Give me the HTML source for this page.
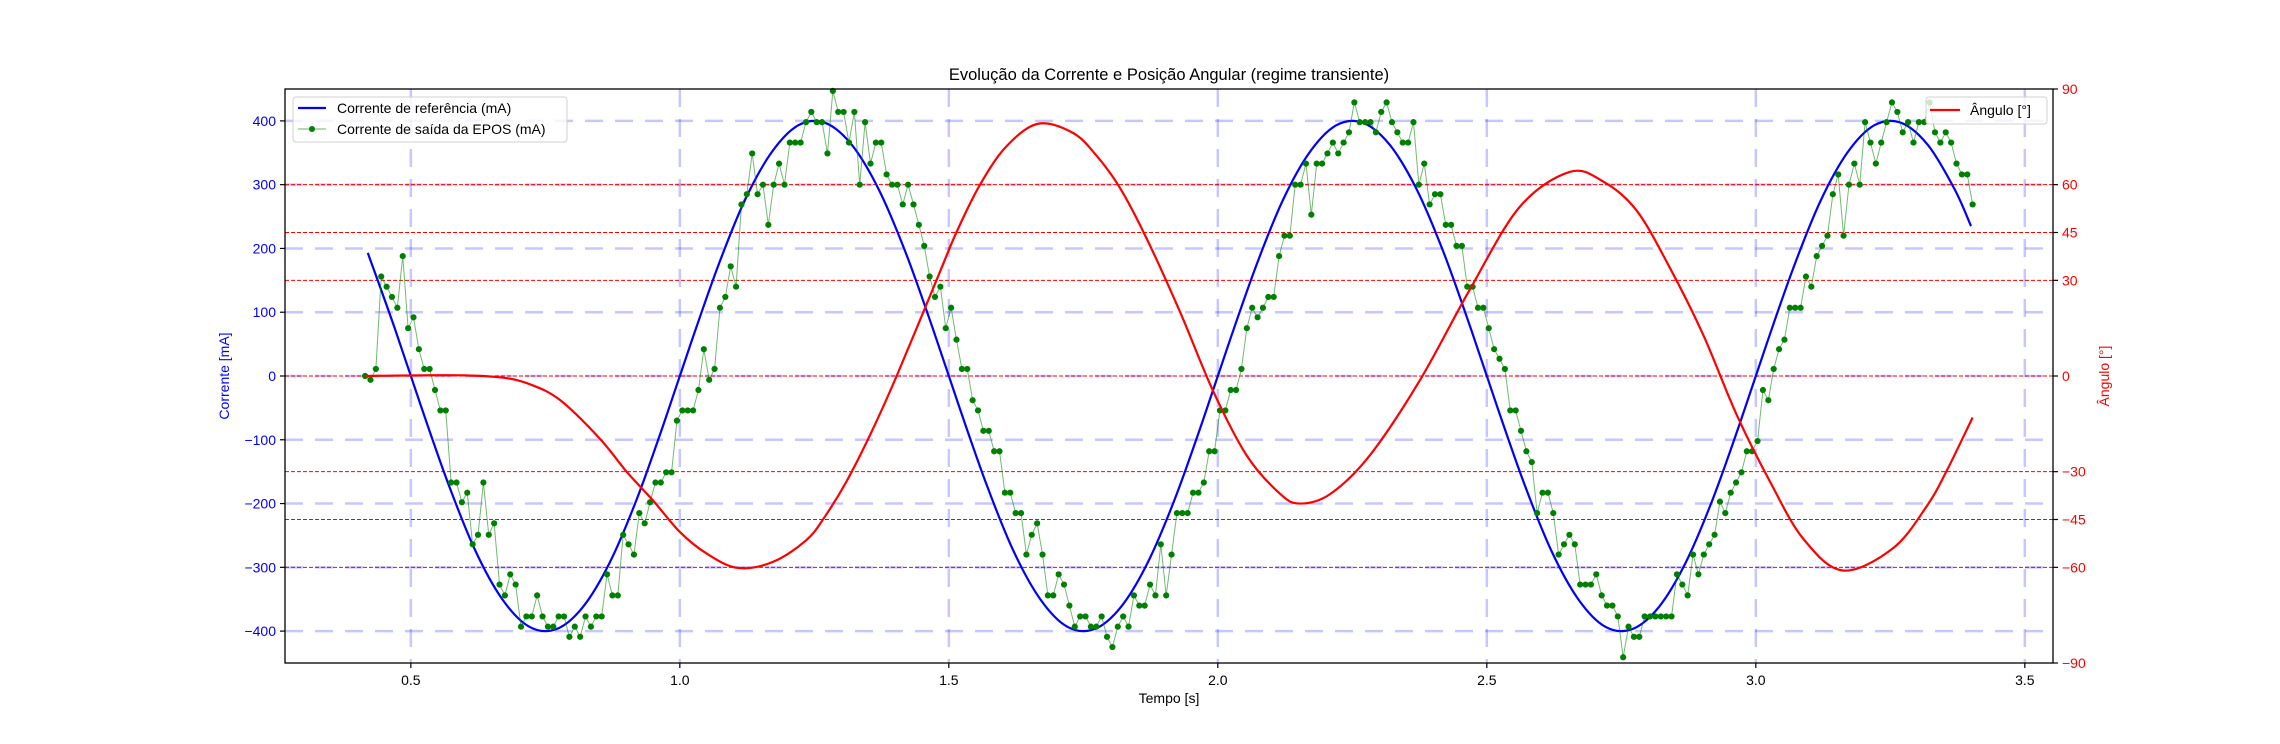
<!DOCTYPE html>
<html><head><meta charset="utf-8">
<style>
html,body{margin:0;padding:0;background:#fff;}
svg{display:block;font-family:"Liberation Sans","DejaVu Sans",sans-serif;}
</style></head>
<body>
<svg id="chart" xmlns="http://www.w3.org/2000/svg" width="2280" height="744" viewBox="0 0 2280 744">
<rect x="0" y="0" width="2280" height="744" fill="#fff"/>
<g id="grid"></g>
<g id="hlines"></g>
<g id="series"></g>
<rect x="285" y="89" width="1768" height="574" fill="none" stroke="#000" stroke-width="1.3"/>
<g id="axes"></g>
<text x="1169" y="80" font-size="16.5" text-anchor="middle" fill="#000">Evolução da Corrente e Posição Angular (regime transiente)</text>
<text x="1169" y="703" font-size="14" text-anchor="middle" fill="#000">Tempo [s]</text>
<text x="0" y="0" font-size="14" text-anchor="middle" fill="#0000ff" transform="translate(229,376) rotate(-90)">Corrente [mA]</text>
<text x="0" y="0" font-size="14" text-anchor="middle" fill="#ff0000" transform="translate(2109,376) rotate(-90)">Ângulo [°]</text>
<g>
<rect x="293" y="97" width="274" height="45" rx="3" fill="#fff" fill-opacity="0.8" stroke="#d0d0d0"/>
<line x1="298" y1="108" x2="326" y2="108" stroke="#0000ff" stroke-width="2.2"/>
<text x="337" y="113" font-size="14" fill="#000">Corrente de referência (mA)</text>
<line x1="298" y1="129" x2="326" y2="129" stroke="#008000" stroke-opacity="0.6" stroke-width="1"/>
<circle cx="312" cy="129" r="3" fill="#008000"/>
<text x="337" y="134" font-size="14" fill="#000">Corrente de saída da EPOS (mA)</text>
</g>
<g>
<rect x="1926" y="97" width="121" height="27" rx="3" fill="#fff" fill-opacity="0.8" stroke="#d0d0d0"/>
<line x1="1930" y1="110" x2="1960" y2="110" stroke="#ff0000" stroke-width="2.2"/>
<text x="1970" y="115" font-size="14" fill="#000">Ângulo [°]</text>
</g>
</svg>
<script>
const xTicks = [0.5, 1.0, 1.5, 2.0, 2.5, 3.0, 3.5];
const xTickLabels = ["0.5", "1.0", "1.5", "2.0", "2.5", "3.0", "3.5"];
const yTicks = [-400, -300, -200, -100, 0, 100, 200, 300, 400];
const angTicks = [-90, -60, -45, -30, 0, 30, 45, 60, 90];
const angRefLines = [60, 45, 30, 0, -30, -45, -60];
const refT = [0.42,0.47,0.52,0.57,0.62,0.67,0.72,0.77,0.82,0.87,0.92,0.97,1.02,1.07,1.12,1.17,1.22,1.27,1.32,1.37,
1.42,1.47,1.52,1.57,1.62,1.67,1.72,1.77,1.82,1.87,1.92,1.97,2.02,2.07,2.12,2.17,2.22,2.27,2.32,2.37,
2.42,2.47,2.52,2.57,2.62,2.67,2.72,2.77,2.82,2.87,2.92,2.97,3.02,3.07,3.12,3.17,3.22,3.27,3.32,3.37,3.40];
const refV = [193,75,-50,-170,-274,-350,-393,-397,-362,-292,-193,-75,50,170,274,350,393,397,362,292,
193,75,-50,-170,-274,-350,-393,-397,-362,-292,-193,-75,50,170,274,350,393,397,362,292,
193,75,-50,-170,-274,-350,-393,-397,-362,-292,-193,-75,50,170,274,350,393,397,362,292,235];
const eposStart = 0.415;
const eposEnd = 3.403;
const eposV = [0,-6,11,156,140,124,107,188,75,92,42,11,11,-22,-54,-54,-167,-167,-198,-183,-264,-249,-167,-249,-231,-327,-344,-311,-327,-393,-377,-377,-344,-377,-393,-393,-377,-377,-409,-393,-409,-377,-393,-377,-377,-311,-344,-344,-249,-264,-280,-215,-231,-198,-167,-167,-151,-151,-70,-54,-54,-54,-22,42,-6,11,107,124,172,140,269,285,349,285,300,237,300,333,300,366,366,366,398,414,398,398,349,447,414,414,366,
414,300,398,333,366,366,316,300,300,269,300,269,237,204,156,124,140,75,107,57,11,11,-38,-54,-86,-86,-118,-118,-183,-183,-215,-215,-280,-249,-231,-280,-344,-344,-311,-327,-360,-393,-377,-377,-393,-393,-377,-409,-425,-393,-377,-393,-344,-360,-360,-327,-344,-264,-344,-280,-215,-215,-215,-183,-183,-167,-118,-118,-54,-54,-22,-22,11,75,107,92,107,124,124,188,220,220,300,300,333,253,333,333,349,
366,349,366,382,429,398,398,398,382,414,429,398,382,366,366,398,300,333,269,285,285,237,237,204,204,140,140,107,107,75,42,27,11,-54,-54,-86,-118,-135,-215,-183,-183,-215,-280,-264,-249,-264,-327,-327,-327,-311,-344,-360,-360,-377,-441,-393,-409,-409,-377,-377,-377,-377,-377,-377,-311,-327,-344,-280,-311,-280,-264,-249,-197,-215,-183,-167,-151,-118,-118,-102,-22,-38,11,42,57,107,107,107,156,140,188,
204,220,285,316,220,300,333,300,398,366,333,366,398,429,414,382,398,366,398,398,429,382,366,382,366,333,316,316,269];
const angT = [0.415,0.517,0.60,0.67,0.72,0.777,0.851,0.901,0.950,1.000,1.050,1.108,1.173,1.235,1.27,1.31,1.355,1.403,1.477,1.514,1.558,1.607,1.666,1.731,1.775,1.818,1.868,1.930,
1.992,2.054,2.116,2.153,2.209,2.282,2.375,2.468,2.561,2.654,2.716,2.778,2.840,2.902,2.964,3.026,3.088,3.162,3.255,3.317,3.354,3.403];
const angV = [0,0.2,0.2,-0.5,-2.5,-7.5,-19.6,-30,-39,-48.9,-55.7,-60.2,-58.3,-51.5,-44,-33,-18,0,30,45,60,72,79.1,76.2,69,59,43,20,
-5,-25,-37,-40,-37,-25,-1.5,27,53,64,61,52,34,13,-12,-33,-51,-61,-54,-41,-30,-13];

const NS = "http://www.w3.org/2000/svg";
const PL = 285, PR = 2053, PT = 89, PB = 663;
const xMin = 0.2661, xMax = 3.5524;
function X(t){ return PL + (t - xMin) / (xMax - xMin) * (PR - PL); }
function Y(v){ return PT + (450 - v) / 900 * (PB - PT); }
function A(d){ return PT + (90 - d) / 180 * (PB - PT); }
function mk(tag, attrs, parent){
  const e = document.createElementNS(NS, tag);
  for (const k in attrs) e.setAttribute(k, attrs[k]);
  parent.appendChild(e);
  return e;
}
function smoothPath(pts){
  let d = "M" + pts[0][0].toFixed(2) + "," + pts[0][1].toFixed(2);
  for (let i = 0; i < pts.length - 1; i++){
    const p0 = pts[Math.max(0, i - 1)], p1 = pts[i], p2 = pts[i + 1], p3 = pts[Math.min(pts.length - 1, i + 2)];
    const c1x = p1[0] + (p2[0] - p0[0]) / 6, c1y = p1[1] + (p2[1] - p0[1]) / 6;
    const c2x = p2[0] - (p3[0] - p1[0]) / 6, c2y = p2[1] - (p3[1] - p1[1]) / 6;
    d += " C" + c1x.toFixed(2) + "," + c1y.toFixed(2) + " " + c2x.toFixed(2) + "," + c2y.toFixed(2) + " " + p2[0].toFixed(2) + "," + p2[1].toFixed(2);
  }
  return d;
}
const grid = document.getElementById("grid");
const hl = document.getElementById("hlines");
const series = document.getElementById("series");
const axes = document.getElementById("axes");

xTicks.forEach((t, i) => {
  const g = mk("line", {x1: X(t), x2: X(t), y1: PT, y2: PB, stroke: "#0000ff", "stroke-opacity": 0.22, "stroke-width": 2.5, "stroke-dasharray": "18,12"}, grid);
  
  
  const tk = mk("line", {x1: X(t), x2: X(t), y1: PB, y2: PB + 5, stroke: "#000", "stroke-width": 1.2}, axes);
  
  
  const lb = mk("text", {x: X(t), y: PB + 22, "font-size": 14, "text-anchor": "middle", fill: "#000"}, axes);
  lb.textContent = xTickLabels[i];
  
  
});
yTicks.forEach(v => {
  const g = mk("line", {x1: PL, x2: PR, y1: Y(v), y2: Y(v), stroke: "#0000ff", "stroke-opacity": 0.22, "stroke-width": 2.5, "stroke-dasharray": "18,12"}, grid);
  
  
  const tk = mk("line", {x1: PL - 5, x2: PL, y1: Y(v), y2: Y(v), stroke: "#000", "stroke-width": 1.2}, axes);
  
  
  const lb = mk("text", {x: PL - 9, y: Y(v) + 5, "font-size": 14, "text-anchor": "end", fill: "#0000ff"}, axes);
  lb.textContent = v < 0 ? "\u2212" + Math.abs(v) : String(v);
  
  
});
angRefLines.forEach(d => {
  const l = mk("line", {x1: PL, x2: PR, y1: A(d), y2: A(d), stroke: "#ff0000", "stroke-width": 1, "stroke-dasharray": "4,2"}, hl);
  
  
});
angTicks.forEach(d => {
  const tk = mk("line", {x1: PR, x2: PR + 5, y1: A(d), y2: A(d), stroke: "#000", "stroke-width": 1.2}, axes);
  
  
  const lb = mk("text", {x: PR + 9, y: A(d) + 5, "font-size": 14, "text-anchor": "start", fill: "#ff0000"}, axes);
  lb.textContent = d < 0 ? "\u2212" + Math.abs(d) : String(d);
  
  
});

const refPath = mk("path", {d: smoothPath(refT.map((t, i) => [X(t), Y(refV[i])])), fill: "none", stroke: "#0000ff", "stroke-width": 2.2}, series);



const n = eposV.length;
const eposT = eposV.map((_, i) => eposStart + (eposEnd - eposStart) * i / (n - 1));
const eposLine = mk("polyline", {points: eposT.map((t, i) => X(t).toFixed(2) + "," + Y(eposV[i]).toFixed(2)).join(" "), fill: "none", stroke: "#008000", "stroke-opacity": 0.55, "stroke-width": 1}, series);


const dots = mk("g", {fill: "#008000"}, series);


eposT.forEach((t, i) => {
  const c = mk("circle", {cx: X(t).toFixed(2), cy: Y(eposV[i]).toFixed(2), r: 3.1}, dots);
  
  
});

const angPath = mk("path", {d: smoothPath(angT.map((t, i) => [X(t), A(angV[i])])), fill: "none", stroke: "#ff0000", "stroke-width": 2.2}, series);


</script>
</body></html>
